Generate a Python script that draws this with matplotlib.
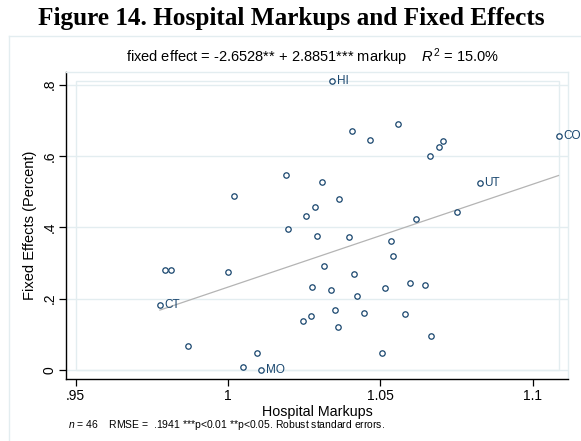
import matplotlib
matplotlib.use("Agg")
import matplotlib.pyplot as plt
from matplotlib.lines import Line2D
from matplotlib.patches import Rectangle
import numpy as np

# ---------------- data ----------------
markup = [1.0020, 1.0342, 1.0408, 1.0467, 1.0559, 1.0662, 1.0693, 1.0706, 1.1085,
          1.0190, 1.0308, 1.0364, 1.0287, 1.0257, 1.0617, 1.0826, 1.0752,
          0.9794, 0.9815, 1.0002, 0.9777, 0.9868, 1.0095, 1.0049, 1.0109,
          1.0196, 1.0294, 1.0396, 1.0534, 1.0543, 1.0317, 1.0413, 1.0276,
          1.0337, 1.0516, 1.0597, 1.0647, 1.0425, 1.0352, 1.0448, 1.0581,
          1.0274, 1.0245, 1.0362, 1.0667, 1.0506]
fixed_effect = [0.4867, 0.8112, 0.6694, 0.6442, 0.6909, 0.5994, 0.6266, 0.6425, 0.6554,
                0.5463, 0.5259, 0.4783, 0.4568, 0.4327, 0.4224, 0.5231, 0.4428,
                0.2817, 0.2806, 0.2761, 0.1810, 0.0680, 0.0467, 0.0084, 0.0008,
                0.3952, 0.3757, 0.3729, 0.3617, 0.3189, 0.2929, 0.2705, 0.2322,
                0.2246, 0.2294, 0.2453, 0.2386, 0.2070, 0.1687, 0.1586, 0.1558,
                0.1519, 0.1371, 0.1194, 0.0951, 0.0467]
state_labels = ["", "HI", "", "", "", "", "", "", "CO",
                "", "", "", "", "", "", "UT", "",
                "", "", "", "CT", "", "", "", "MO",
                "", "", "", "", "", "", "", "",
                "", "", "", "", "", "", "", "",
                "", "", "", "", ""]
intercept = -2.6528
slope = 2.8851
x_ticks = [0.95, 1.0, 1.05, 1.1]
x_tick_labels = [".95", "1", "1.05", "1.1"]
y_ticks = [0.0, 0.2, 0.4, 0.6, 0.8]
y_tick_labels = ["0", ".2", ".4", ".6", ".8"]

title = "Figure 14. Hospital Markups and Fixed Effects"
subtitle = r"fixed effect = -2.6528** + 2.8851*** markup    $R^2$ = 15.0%"
note = r"$n$ = 46    RMSE =  .1941 ***p<0.01 **p<0.05. Robust standard errors."

# ---------------- style ----------------
plt.rcParams['font.family'] = ['Liberation Sans', 'DejaVu Sans']
plt.rcParams['mathtext.fontset'] = 'custom'
plt.rcParams['mathtext.rm'] = 'Liberation Sans'
plt.rcParams['mathtext.it'] = 'Liberation Sans:italic'

navy = "#1a476f"
grid_c = "#e3edf0"

W, H = 581, 441
fig = plt.figure(figsize=(W / 100, H / 100), dpi=100)
fig.patch.set_facecolor("white")

# axes placement (pixels)
ax_l, ax_r, ax_t, ax_b = 66, 568, 71.7, 379
ax = fig.add_axes([ax_l / W, (H - ax_b) / H, (ax_r - ax_l) / W, (ax_b - ax_t) / H])

x = np.array(markup)
y = np.array(fixed_effect)

# inner plot region (range of ticks and data)
ix0, ix1 = min(min(x_ticks), x.min()), max(max(x_ticks), x.max())
iy0, iy1 = min(min(y_ticks), y.min()), max(max(y_ticks), y.max())
# margins in pixels
mx_px, my_px = 9.5, 9.0
inner_w = (ax_r - ax_l) - 2 * mx_px
inner_h = (ax_b - ax_t) - 2 * my_px
dx = (ix1 - ix0) / inner_w * mx_px
dy = (iy1 - iy0) / inner_h * my_px
ax.set_xlim(ix0 - dx, ix1 + dx)
ax.set_ylim(iy0 - dy, iy1 + dy)

# gridlines
for yt in y_ticks:
    ax.axhline(yt, color=grid_c, lw=1.0, zorder=0)
ax.add_patch(Rectangle((ix0, iy0), ix1 - ix0, iy1 - iy0, fill=False,
                       edgecolor=grid_c, lw=1.0, zorder=0))

# fit line
xl = np.array([x.min(), x.max()])
ax.plot(xl, intercept + slope * xl, color="#b4b4b4", lw=0.9, zorder=2)

# scatter
ax.plot(x, y, linestyle="none", marker="o", markersize=3.9,
        markerfacecolor="white", markeredgecolor=navy, markeredgewidth=0.9, zorder=3)
for xi, yi, lab in zip(x, y, state_labels):
    if lab:
        ax.annotate(lab, (xi, yi), xytext=(3.5, 0), textcoords="offset points",
                    ha="left", va="center", fontsize=8.5, color=navy,
                    annotation_clip=False, zorder=4)

# spines
for s in ["top", "right"]:
    ax.spines[s].set_color(grid_c)
    ax.spines[s].set_linewidth(1.0)
for s in ["left", "bottom"]:
    ax.spines[s].set_color("#000000")
    ax.spines[s].set_linewidth(1.0)

ax.set_xticks(x_ticks)
ax.set_xticklabels(x_tick_labels, fontsize=10)
ax.set_yticks(y_ticks)
ax.set_yticklabels(y_tick_labels, fontsize=10, rotation=90, va="center")
ax.tick_params(axis="both", direction="out", length=5, width=0.9, color="#000000", pad=2)

ax.set_xlabel("Hospital Markups", fontsize=10.3, labelpad=1.5)
ax.set_ylabel("Fixed Effects (Percent)", fontsize=10.5, labelpad=4)

# titles and note
fig.text(291 / W, 1 - 18 / H, title, ha="center", va="center",
         fontsize=18.2, fontweight="bold", family=["Liberation Serif", "DejaVu Serif"])
fig.text(313 / W, 1 - 57 / H, subtitle, ha="center", va="center", fontsize=10.5)
fig.text(68 / W, 1 - 425 / H, note, ha="left", va="center", fontsize=7.5)

# outer graph region box
fig.add_artist(Line2D([9.3 / W, 1.0], [1 - 36 / H, 1 - 36 / H], color=grid_c, lw=1.0))
fig.add_artist(Line2D([9.3 / W, 9.3 / W], [1 - 36 / H, 0.0], color=grid_c, lw=1.0))

fig.savefig("out.png", dpi=100, facecolor="white")
